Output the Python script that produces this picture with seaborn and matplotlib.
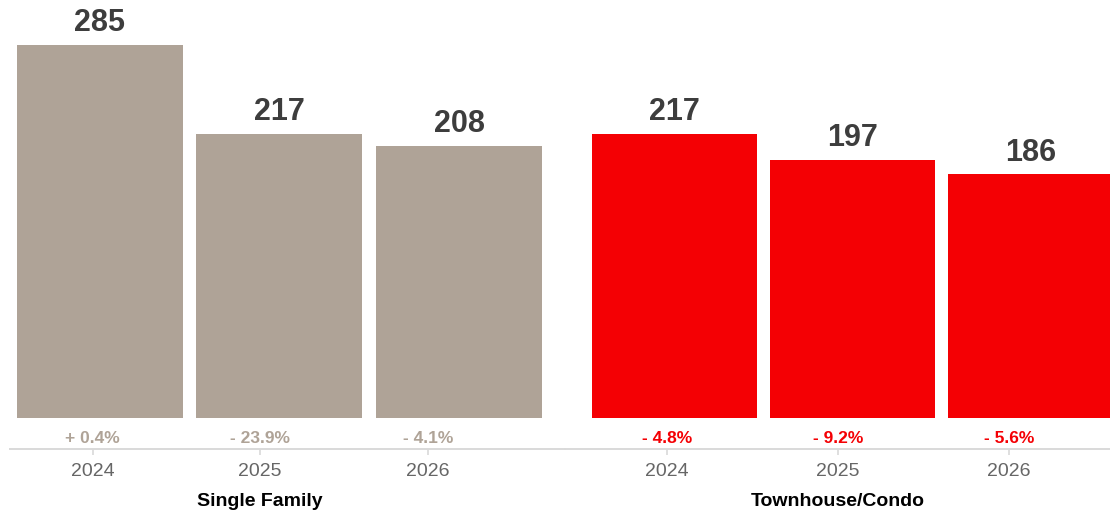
import matplotlib
matplotlib.use("Agg")
import matplotlib.pyplot as plt
import matplotlib.transforms as mtransforms
import seaborn as sns
import pandas as pd

# ---- data ----
years = ["2024", "2025", "2026"]
groups = ["Single Family", "Townhouse/Condo"]
sf_values = [285, 217, 208]
th_values = [217, 197, 186]
sf_changes = [0.4, -23.9, -4.1]
th_changes = [-4.8, -9.2, -5.6]

sns.set_theme(style="white")
plt.rcParams["font.family"] = ["Liberation Sans", "DejaVu Sans"]

SF_COLOR = "#afa397"
TH_COLOR = "#f40004"
AXIS_COLOR = "#d9d9d9"

fig = plt.figure(figsize=(11.1, 5.15), dpi=100)
W, H = 1110, 515

# layout: (left px, right px, xlim, bar width, tick start, tick step)
layouts = [
    (10, 565, (-0.50, 2.59), 0.925, -0.04, 0.933),
    (565, 1110, (-0.615, 2.447), 0.927, -0.042, 0.961),
]
series = [(sf_values, sf_changes, SF_COLOR), (th_values, th_changes, TH_COLOR)]

axis_bottom_px = 449
ylim = (-23.7, 319.3)

def fmt(v):
    return ("+ " if v >= 0 else "- ") + f"{abs(v):.1f}%"

for gi, (group, (vals, chg, color), lay) in enumerate(zip(groups, series, layouts)):
    left, right, xlim, bw, t0, tstep = lay
    ax = fig.add_axes([left / W, (H - axis_bottom_px) / H, (right - left) / W, axis_bottom_px / H])
    df = pd.DataFrame({"year": years, "value": vals})
    sns.barplot(data=df, x="year", y="value", color=color, width=bw, saturation=1,
                ax=ax, order=years, edgecolor=color, linewidth=0)
    ax.set_xlim(*xlim)
    ax.set_ylim(*ylim)
    ax.set_xlabel("")
    ax.set_ylabel("")
    ax.set_yticks([])
    for s in ["left", "top", "right"]:
        ax.spines[s].set_visible(False)
    ax.spines["bottom"].set_color(AXIS_COLOR)
    ax.spines["bottom"].set_linewidth(1.4)
    ticks = [t0 + i * tstep for i in range(len(years))]
    ax.set_xticks(ticks, years)
    ax.tick_params(axis="x", bottom=True, length=4, width=1.2, color=AXIS_COLOR,
                   labelsize=14, labelcolor="#666666", pad=6)
    ax.patch.set_alpha(0)

    # value labels on top of bars
    for i, v in enumerate(vals):
        ax.annotate(str(v), xy=(i, v), xytext=(0, 5), textcoords="offset points",
                    ha="center", va="bottom", fontsize=22, fontweight="bold", color="#3d3d3d")
    # percent change labels
    for i, c in enumerate(chg):
        ax.text(ticks[i], -15.3, fmt(c), ha="center", va="center", fontsize=12.5,
                fontweight="bold", color=color)
    # group label
    trans = mtransforms.blended_transform_factory(ax.transData, fig.transFigure)
    ax.text(ticks[1], (H - 501) / H, group, transform=trans, ha="center", va="center",
            fontsize=14, fontweight="bold", color="#000000")

fig.savefig("out.png", dpi=100)
